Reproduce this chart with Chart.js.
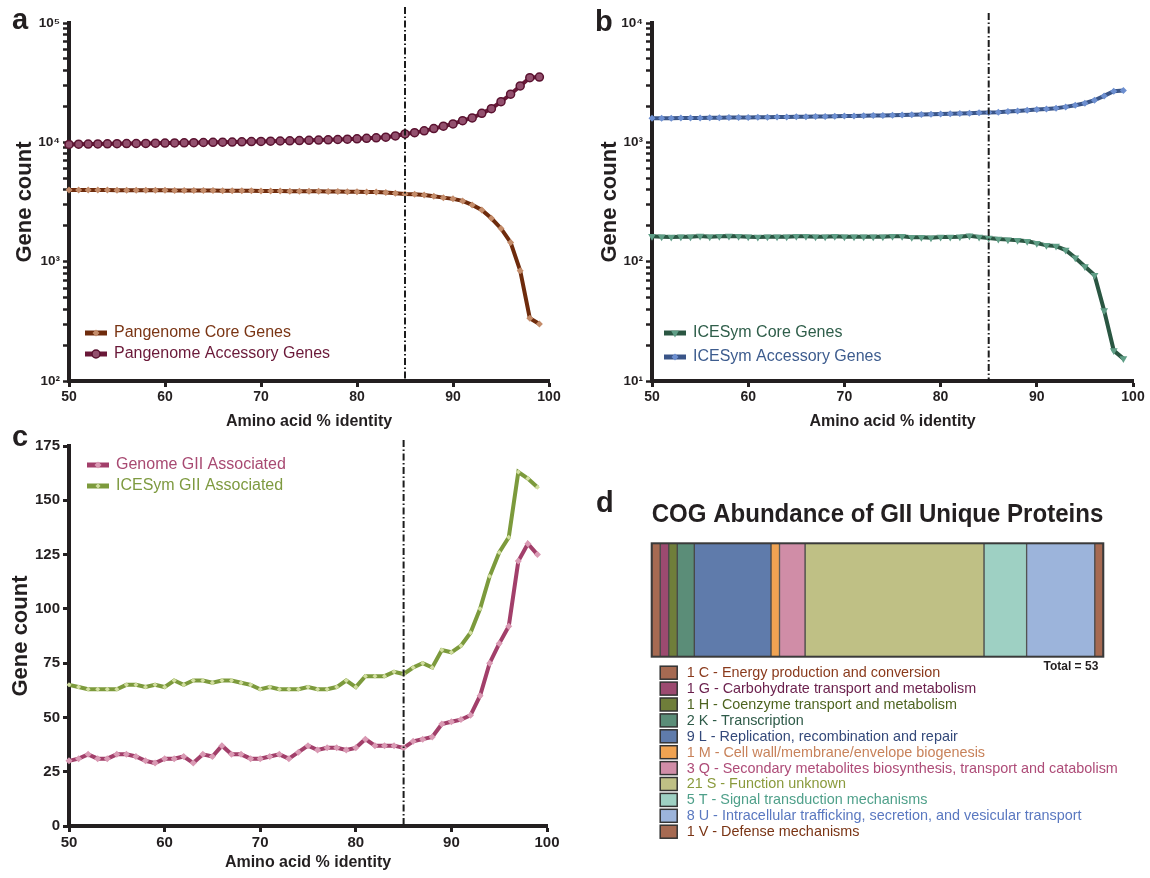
<!DOCTYPE html>
<html>
<head>
<meta charset="utf-8">
<script src="https://cdn.jsdelivr.net/npm/chart.js@4.4.1/dist/chart.umd.min.js"></script>
<style>
  html, body { margin: 0; padding: 0; background: #fff; }
  body { width: 1150px; height: 878px; position: relative; overflow: hidden; }
  canvas { position: absolute; }
  .tag { position: absolute; font: bold 29px/29px 'Liberation Sans', Arial, sans-serif; color: #231F20; }
</style>
</head>
<body>
<canvas id="chartA" width="575" height="435" style="left:0;top:0"></canvas>
<canvas id="chartB" width="570" height="435" style="left:580px;top:0"></canvas>
<canvas id="chartC" width="575" height="446" style="left:0;top:430px"></canvas>
<canvas id="chartD" width="550" height="398" style="left:600px;top:480px"></canvas>
<div class="tag" style="left:12px;top:5px">a</div>
<div class="tag" style="left:595px;top:7px">b</div>
<div class="tag" style="left:12px;top:422px">c</div>
<div class="tag" style="left:596px;top:488px">d</div>
<script>
// amino acid % identity thresholds (x axis of a, b, c)
const identity = [50, 51, 52, 53, 54, 55, 56, 57, 58, 59, 60, 61, 62, 63, 64, 65, 66, 67, 68, 69,
  70, 71, 72, 73, 74, 75, 76, 77, 78, 79, 80, 81, 82, 83, 84, 85, 86, 87, 88, 89,
  90, 91, 92, 93, 94, 95, 96, 97, 98, 99]
const cutoff = 85

// panel a
const pangenomeCore = [3990, 3990, 3985, 3980, 3980, 3975, 3975, 3970, 3965, 3960,
  3960, 3955, 3950, 3950, 3945, 3940, 3935, 3930, 3925, 3920,
  3915, 3910, 3905, 3900, 3895, 3890, 3885, 3880, 3870, 3860,
  3850, 3840, 3830, 3790, 3740, 3690, 3670, 3620, 3530, 3440,
  3360, 3230, 2990, 2710, 2310, 1900, 1450, 840, 336, 300]
const pangenomeAccessory = [9600, 9650, 9680, 9700, 9720, 9740, 9760, 9780, 9800, 9830,
  9850, 9880, 9910, 9940, 9970, 10000, 10030, 10060, 10100, 10140,
  10180, 10220, 10260, 10300, 10350, 10400, 10450, 10500, 10560, 10620,
  10700, 10800, 10900, 11050, 11320, 11750, 12060, 12480, 13040, 13650,
  14260, 15200, 16000, 17500, 19150, 21900, 25300, 29700, 34800, 35200]

// panel b
const iceCore = [163, 162, 161, 162, 162, 164, 162, 163, 164, 163,
  162, 161, 162, 162, 162, 163, 163, 162, 162, 163,
  162, 162, 162, 162, 162, 163, 163, 160, 160, 159,
  161, 161, 162, 165, 161, 158, 155, 153, 151, 148,
  143, 137, 135, 125, 108, 91, 77, 39, 18, 15.4]
const iceAccessory = [1590, 1592, 1595, 1598, 1600, 1603, 1606, 1609, 1612, 1615,
  1618, 1622, 1626, 1630, 1634, 1638, 1642, 1646, 1650, 1655,
  1660, 1665, 1670, 1675, 1680, 1686, 1692, 1700, 1710, 1720,
  1730, 1740, 1748, 1754, 1766, 1780, 1787, 1811, 1834, 1857,
  1883, 1905, 1930, 1982, 2047, 2128, 2254, 2450, 2680, 2716]

// panel c
const genomeGII = [30, 31, 33, 31, 31, 33, 33, 32, 30, 29,
  31, 31, 32, 29, 33, 32, 37, 33, 33, 31,
  31, 32, 33, 31, 34, 37, 35, 36, 36, 35,
  36, 40, 37, 37, 37, 36, 39, 40, 41, 47,
  48, 49, 51, 60, 75, 84, 92, 122, 130, 125]
const iceGII = [65, 64, 63, 63, 63, 63, 65, 65, 64, 65,
  64, 67, 65, 67, 67, 66, 67, 67, 66, 65,
  63, 64, 63, 63, 63, 64, 63, 63, 64, 67,
  64, 69, 69, 69, 71, 70, 73, 75, 73, 81,
  80, 83, 89, 100, 115, 126, 133, 163, 160, 156]

// log axes: decades carrying a label
const decadesA = [100, 1000, 10000, 100000]
const decadesB = [10, 100, 1000, 10000]

// panel d
const cogCodes = ['C', 'G', 'H', 'K', 'L', 'M', 'Q', 'S', 'T', 'U', 'V']
const cogNames = ['Energy production and conversion', 'Carbohydrate transport and metabolism',
  'Coenzyme transport and metabolism', 'Transcription', 'Replication, recombination and repair',
  'Cell wall/membrane/envelope biogenesis', 'Secondary metabolites biosynthesis, transport and catabolism',
  'Function unknown', 'Signal transduction mechanisms',
  'Intracellular trafficking, secretion, and vesicular transport', 'Defense mechanisms']
const cogCounts = [1, 1, 1, 2, 9, 1, 3, 21, 5, 8, 1]
const cogColors = ['#A66A52', '#9C4A70', '#6F7E3A', '#5B8D78', '#5F7BAB', '#F0A352',
  '#D08DA7', '#BFC085', '#9ED0C3', '#9CB4DB', '#A66A52']
const cogTextColors = ['#8A3A1C', '#6A1F4C', '#4E6420', '#2E5A48', '#34497A', '#C8825A',
  '#AE4C78', '#8A9A3C', '#4FA08A', '#5A78C0', '#7A3414']

const ink = '#231F20'
const family = "'Liberation Sans', Arial, Helvetica, sans-serif"
Chart.defaults.font.family = family
Chart.defaults.color = ink

const sup = ['\u2070', '\u00B9', '\u00B2', '\u00B3', '\u2074', '\u2075', '\u2076']

function logTicks(decades) {
  const ticks = []
  decades.forEach((d, i) => {
    ticks.push({value: d})
    if (i < decades.length - 1) {
      for (let k = 2; k <= 9; k++) ticks.push({value: d * k})
    }
  })
  return ticks
}

function decadeLabel(v) {
  const e = Math.log10(v)
  if (Math.abs(e - Math.round(e)) > 1e-9) return ''
  return '10' + sup[Math.round(e)]
}

// dash-dot cutoff line
const cutoffLine = {
  id: 'cutoffLine',
  afterDatasetsDraw(chart, args, opts) {
    const x = chart.scales.x.getPixelForValue(opts.value)
    const {top, bottom} = chart.chartArea
    const ctx = chart.ctx
    ctx.save()
    ctx.strokeStyle = '#1c1c1c'
    ctx.lineWidth = 2
    ctx.setLineDash([7, 2.5, 1.5, 2.5])
    ctx.beginPath()
    ctx.moveTo(x, top - opts.overshoot)
    ctx.lineTo(x, bottom)
    ctx.stroke()
    ctx.restore()
  }
}

// legend drawn inside the plot area
const insideLegend = {
  id: 'insideLegend',
  afterDraw(chart, args, opts) {
    const {ctx, chartArea} = chart
    const baseY = opts.fromBottom ? chartArea.bottom - opts.y : chartArea.top + opts.y
    chart.data.datasets.forEach((ds, i) => {
      const y = baseY + i * opts.rowGap
      const x0 = chartArea.left + opts.x
      ctx.save()
      ctx.strokeStyle = ds.borderColor
      ctx.lineWidth = 5
      ctx.beginPath()
      ctx.moveTo(x0, y)
      ctx.lineTo(x0 + 22, y)
      ctx.stroke()
      ctx.fillStyle = ds.pointBackgroundColor
      ctx.strokeStyle = ds.pointBorderColor
      ctx.lineWidth = ds.pointBorderWidth
      Chart.helpers.drawPoint(ctx, {
        pointStyle: ds.pointStyle, radius: ds.pointRadius,
        borderWidth: ds.pointBorderWidth, rotation: ds.pointRotation || 0
      }, x0 + 11, y)
      ctx.fillStyle = ds.legendColor
      ctx.font = '16px ' + family
      ctx.textBaseline = 'middle'
      ctx.textAlign = 'left'
      ctx.fillText(ds.label, x0 + 29, y)
      ctx.restore()
    })
  }
}

function series(label, values, line, marker, style, radius, legendColor, extra) {
  return Object.assign({
    label: label,
    data: values,
    borderColor: line,
    borderWidth: 4,
    tension: 0,
    pointStyle: style,
    pointRadius: radius,
    pointBackgroundColor: marker,
    pointBorderColor: marker,
    pointBorderWidth: 0,
    legendColor: legendColor,
    clip: false
  }, extra || {})
}

function xAxis(height, size) {
  return {
    type: 'linear', min: 50, max: 100,
    afterFit: s => { s.height = height },
    border: {display: true, color: ink, width: 4},
    grid: {drawOnChartArea: false, drawTicks: true, tickLength: 6, tickWidth: 3, tickColor: ink},
    ticks: {stepSize: 10, color: ink, font: {size: size, weight: 'bold'}, padding: 2, maxRotation: 0},
    title: {display: true, text: 'Amino acid % identity', color: ink,
      font: {size: 16, weight: 'bold'}, padding: {top: 0, bottom: 4}}
  }
}

function yTitle(pad) {
  return {display: true, text: 'Gene count', color: ink,
    font: {size: 22, weight: 'bold'}, padding: {top: pad, bottom: 0}}
}

function logAxis(decades, width, pad) {
  return {
    type: 'logarithmic',
    min: decades[0], max: decades[decades.length - 1],
    afterFit: s => { s.width = width },
    afterBuildTicks: s => { s.ticks = logTicks(decades) },
    border: {display: true, color: ink, width: 4},
    grid: {drawOnChartArea: false, drawTicks: true, tickLength: 6, tickWidth: 2.5, tickColor: ink},
    ticks: {autoSkip: false, callback: v => decadeLabel(v), color: ink,
      font: {size: 13.5, weight: 'bold'}, padding: 3},
    title: yTitle(pad)
  }
}

function baseOptions(scales, padding, legendOpts, overshoot) {
  return {
    responsive: false,
    animation: false,
    events: [],
    layout: {padding: padding},
    scales: scales,
    plugins: {
      legend: {display: false},
      tooltip: {enabled: false},
      insideLegend: legendOpts,
      cutoffLine: {value: cutoff, overshoot: overshoot}
    }
  }
}

// a
new Chart(document.getElementById('chartA'), {
  type: 'line',
  data: {
    labels: identity,
    datasets: [
      series('Pangenome Core Genes', pangenomeCore, '#6E2B0C', '#C48C6A', 'rectRot', 3.5, '#7A3514'),
      series('Pangenome Accessory Genes', pangenomeAccessory, '#6A1838', '#93506E', 'circle', 4, '#6A1838',
        {pointBorderColor: '#5A1230', pointBorderWidth: 1.5})
    ]
  },
  options: baseOptions({x: xAxis(54, 14), y: logAxis(decadesA, 69, 12)},
    {left: 0, top: 23, right: 26, bottom: 0},
    {x: 16, y: 48, rowGap: 21, fromBottom: true}, 16),
  plugins: [cutoffLine, insideLegend]
})

// b
new Chart(document.getElementById('chartB'), {
  type: 'line',
  data: {
    labels: identity,
    datasets: [
      series('ICESym Core Genes', iceCore, '#2A5642', '#5F9E86', 'triangle', 4.5, '#2F5E4A',
        {pointRotation: 180}),
      series('ICESym Accessory Genes', iceAccessory, '#3A5588', '#6D8FD0', 'rectRot', 3.5, '#3D5C8E')
    ]
  },
  options: baseOptions({x: xAxis(54, 14), y: logAxis(decadesB, 72, 17)},
    {left: 0, top: 23, right: 17, bottom: 0},
    {x: 12, y: 48, rowGap: 24, fromBottom: true}, 10),
  plugins: [cutoffLine, insideLegend]
})

// c
new Chart(document.getElementById('chartC'), {
  type: 'line',
  data: {
    labels: identity,
    datasets: [
      series('Genome GII Associated', genomeGII, '#A23F6A', '#DA9AB4', 'rectRot', 3.5, '#A84A72'),
      series('ICESym GII Associated', iceGII, '#7C9A3C', '#D2DEA0', 'rectRot', 2.5, '#7E9A40')
    ]
  },
  options: baseOptions({
    x: xAxis(50, 15),
    y: {
      type: 'linear', min: 0, max: 175,
      afterFit: s => { s.width = 69 },
      border: {display: true, color: ink, width: 4},
      grid: {drawOnChartArea: false, drawTicks: true, tickLength: 6, tickWidth: 3, tickColor: ink},
      ticks: {stepSize: 25, color: ink, font: {size: 15, weight: 'bold'}, padding: 3},
      title: yTitle(8)
    }
  }, {left: 0, top: 16, right: 28, bottom: 0},
  {x: 18, y: 19, rowGap: 21, fromBottom: false}, 6),
  plugins: [cutoffLine, insideLegend]
})

// d
const cogTotal = cogCounts.reduce((a, b) => a + b, 0)

const barFrame = {
  id: 'barFrame',
  afterDatasetsDraw(chart) {
    const {ctx, chartArea} = chart
    ctx.save()
    ctx.strokeStyle = '#3a3a3a'
    ctx.lineWidth = 2
    ctx.strokeRect(chartArea.left, chartArea.top, chartArea.right - chartArea.left, chartArea.bottom - chartArea.top)
    ctx.restore()
  }
}

const cogLegend = {
  id: 'cogLegend',
  afterDraw(chart) {
    const {ctx, chartArea} = chart
    ctx.save()
    ctx.font = 'bold 12px ' + family
    ctx.fillStyle = ink
    ctx.textAlign = 'right'
    ctx.textBaseline = 'middle'
    ctx.fillText('Total = ' + cogTotal, chartArea.right - 5, chartArea.bottom + 10)
    ctx.textAlign = 'left'
    ctx.font = '14.4px ' + family
    chart.data.datasets.forEach((ds, i) => {
      const y = chartArea.bottom + 16 + i * 15.9
      const bx = chartArea.left + 8.5
      ctx.fillStyle = ds.backgroundColor
      ctx.fillRect(bx, y - 6.5, 17, 13)
      ctx.strokeStyle = '#333'
      ctx.lineWidth = 1.5
      ctx.strokeRect(bx, y - 6.5, 17, 13)
      ctx.fillStyle = cogTextColors[i]
      ctx.fillText(ds.label, chartArea.left + 35, y + 0.5)
    })
    ctx.restore()
  }
}

new Chart(document.getElementById('chartD'), {
  type: 'bar',
  data: {
    labels: ['GII unique'],
    datasets: cogCodes.map((code, i) => ({
      label: cogCounts[i] + ' ' + code + ' - ' + cogNames[i],
      data: [cogCounts[i]],
      backgroundColor: cogColors[i],
      borderColor: '#4a4a4a',
      borderWidth: 1,
      borderSkipped: false,
      categoryPercentage: 1,
      barPercentage: 1
    }))
  },
  options: {
    indexAxis: 'y',
    responsive: false,
    animation: false,
    events: [],
    layout: {padding: {left: 51.7, right: 46.7, top: 0, bottom: 221.3}},
    scales: {
      x: {stacked: true, display: false, min: 0, max: cogTotal},
      y: {stacked: true, display: false}
    },
    plugins: {
      legend: {display: false},
      tooltip: {enabled: false},
      title: {display: true, text: 'COG Abundance of GII Unique Proteins', color: ink,
        font: {size: 25, weight: 'bold'}, padding: {top: 20, bottom: 13.3}}
    }
  },
  plugins: [barFrame, cogLegend]
})
</script>
</body>
</html>
